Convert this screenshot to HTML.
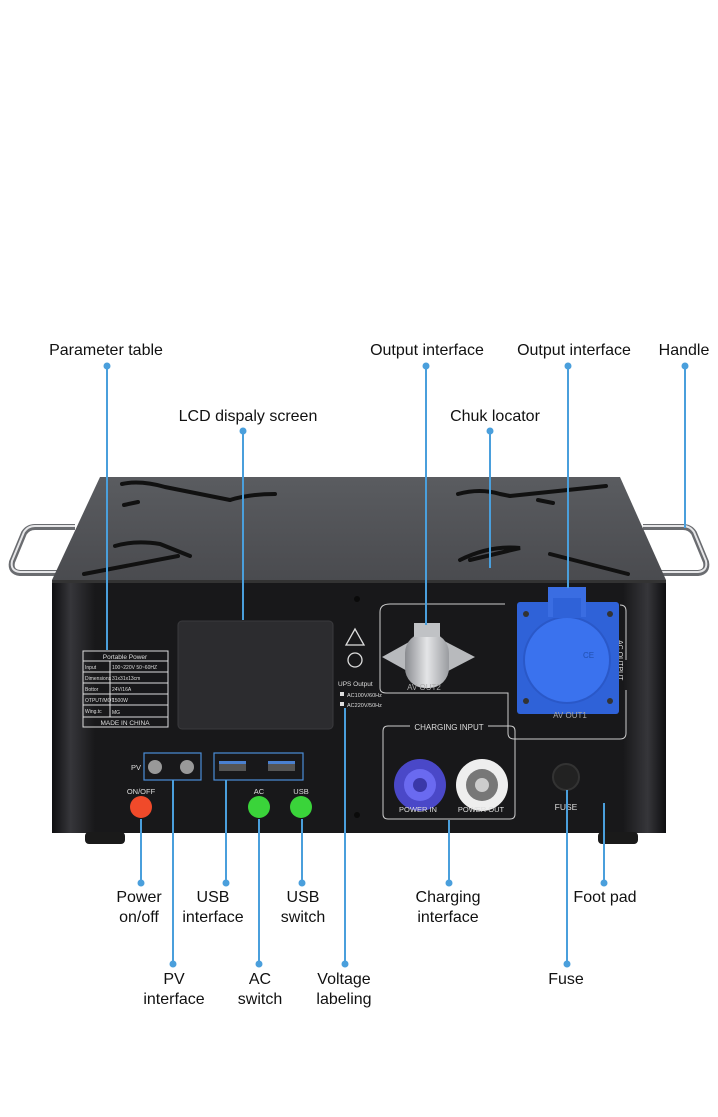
<!DOCTYPE html>
<html><head><meta charset="utf-8"><style>
html,body{margin:0;padding:0;background:#fff;}
svg{display:block;}
text{font-family:"Liberation Sans",Arial,sans-serif;}
</style></head><body>
<svg width="718" height="1117" viewBox="0 0 718 1117" xmlns="http://www.w3.org/2000/svg">
<defs>
<linearGradient id="lid" x1="0" y1="0" x2="0" y2="1"><stop offset="0" stop-color="#5a5c60"/><stop offset="1" stop-color="#4a4b4f"/></linearGradient>
<linearGradient id="panel" x1="0" y1="0" x2="1" y2="0"><stop offset="0" stop-color="#0e0e10"/><stop offset="0.03" stop-color="#36363a"/><stop offset="0.07" stop-color="#18181a"/><stop offset="0.93" stop-color="#18181a"/><stop offset="0.97" stop-color="#36363a"/><stop offset="1" stop-color="#0e0e10"/></linearGradient>
<linearGradient id="metal" x1="0" y1="0" x2="1" y2="0"><stop offset="0" stop-color="#8a8c90"/><stop offset="0.5" stop-color="#e4e5e7"/><stop offset="1" stop-color="#9a9ca0"/></linearGradient>
</defs>
<rect width="718" height="1117" fill="#fff"/>
<!-- handles -->
<g fill="none" stroke="#6a6c70" stroke-width="6">
<path d="M75 527 L35 527 Q28 527 24 533 L12 562 Q10 572 20 573 L70 573"/>
<path d="M643 527 L683 527 Q690 527 694 533 L706 562 Q708 572 698 573 L648 573"/>
</g>
<g fill="none" stroke="#e6e6e8" stroke-width="2">
<path d="M75 526 L35 526 Q28 526 24 532 L12 561 Q10 571 20 572 L70 572"/>
<path d="M643 526 L683 526 Q690 526 694 532 L706 561 Q708 571 698 572 L648 572"/>
</g>
<!-- lid -->
<polygon points="100,477 620,477 666,580 52,580" fill="url(#lid)"/>
<g stroke="#111" stroke-width="4" fill="none" stroke-linecap="round">
<path d="M122 484 Q140 480 165 487 L230 500"/><path d="M230 500 Q250 494 275 494"/><path d="M124 505 L138 502"/>
<path d="M115 546 Q135 540 160 544 L190 556"/><path d="M84 574 L178 556"/>
<path d="M458 494 Q480 488 500 494 L510 496"/><path d="M510 496 L606 486"/><path d="M538 500 L553 503"/>
<path d="M460 560 Q490 545 520 548 L470 560"/><path d="M550 554 L628 574"/>
</g>
<!-- front panel -->
<rect x="52" y="580" width="614" height="253" fill="url(#panel)"/>
<rect x="52" y="580" width="614" height="3" fill="#333"/>
<!-- feet -->
<rect x="85" y="832" width="40" height="12" rx="4" fill="#1a1a1a"/>
<rect x="598" y="832" width="40" height="12" rx="4" fill="#1a1a1a"/>
<!-- LCD -->
<rect x="178" y="621" width="155" height="108" rx="4" fill="#2c2c2f" stroke="#3a3a3d"/>
<!-- parameter table -->
<g stroke="#ddd" stroke-width="1" fill="none">
<rect x="83" y="651" width="85" height="76"/>
<line x1="83" y1="661" x2="168" y2="661"/><line x1="83" y1="672" x2="168" y2="672"/><line x1="83" y1="683" x2="168" y2="683"/><line x1="83" y1="694" x2="168" y2="694"/><line x1="83" y1="705" x2="168" y2="705"/><line x1="83" y1="717" x2="168" y2="717"/>
<line x1="110" y1="661" x2="110" y2="717"/>
</g>
<g fill="#ddd" font-size="5">
<text x="125" y="659" text-anchor="middle" font-size="6.5">Portable Power</text>
<text x="85" y="669">Input</text><text x="112" y="669">100~220V 50~60HZ</text>
<text x="85" y="680">Dimensions</text><text x="112" y="680">31x31x13cm</text>
<text x="85" y="691">Bottor</text><text x="112" y="691">24V/16A</text>
<text x="85" y="702">OTPUT/MOT</text><text x="112" y="702">1500W</text>
<text x="85" y="713">Wing.tc</text><text x="112" y="714">MG</text>
<text x="125" y="725" text-anchor="middle" font-size="6.5">MADE IN CHINA</text>
</g>
<!-- warning & UPS -->
<polygon points="355,629 346,645 364,645" fill="none" stroke="#ddd" stroke-width="1.3"/>
<circle cx="355" cy="660" r="7" fill="none" stroke="#ddd" stroke-width="1.3"/>
<circle cx="357" cy="599" r="3" fill="#0a0a0a"/><circle cx="357" cy="815" r="3" fill="#0a0a0a"/>
<text x="338" y="686" fill="#ddd" font-size="6.5">UPS  Output</text>
<rect x="340" y="692" width="4" height="4" fill="#ddd"/><text x="347" y="697" fill="#ddd" font-size="5.5">AC100V/60Hz</text>
<rect x="340" y="702" width="4" height="4" fill="#ddd"/><text x="347" y="707" fill="#ddd" font-size="5.5">AC220V/50Hz</text>
<!-- AV outlines -->
<path d="M390 604 L505 604 M380 612 L380 688 Q380 693 386 693 L508 693 L508 733 Q508 739 514 739 L620 739 Q626 739 626 733 L626 690 M626 660 L626 611 Q626 605 620 605" fill="none" stroke="#ccc" stroke-width="1"/>
<path d="M390 604 Q380 604 380 612" fill="none" stroke="#ccc"/>
<text x="618" y="640" fill="#ddd" font-size="7" transform="rotate(90 618 640)">AC OUTPUT</text>
<!-- gray connector -->
<polygon points="427,632 475,657 427,682 382,657" fill="#b8babd"/>
<rect x="405" y="633" width="44" height="55" rx="20" fill="url(#metal)"/>
<rect x="414" y="623" width="26" height="14" fill="#c0c2c5"/>
<text x="424" y="690" text-anchor="middle" fill="#aaa" font-size="8">AV OUT2</text>
<!-- blue socket -->
<rect x="517" y="602" width="102" height="112" rx="3" fill="#2f62d8"/>
<circle cx="567" cy="660" r="43" fill="#3a72ee" stroke="#2a58c8" stroke-width="2"/>
<rect x="548" y="587" width="38" height="30" fill="#3a6de2"/>
<rect x="553" y="598" width="28" height="20" fill="#2f62d8"/>
<circle cx="526" cy="614" r="3" fill="#333"/><circle cx="610" cy="614" r="3" fill="#333"/><circle cx="526" cy="701" r="3" fill="#333"/><circle cx="610" cy="701" r="3" fill="#333"/>
<text x="583" y="658" fill="#2150b0" font-size="8">CE</text>
<text x="570" y="718" text-anchor="middle" fill="#aaa" font-size="8">AV OUT1</text>
<!-- charging input -->
<path d="M410 726 L388 726 Q383 726 383 731 L383 814 Q383 819 388 819 L510 819 Q515 819 515 814 L515 731 Q515 726 510 726 L488 726" fill="none" stroke="#ccc"/>
<text x="449" y="730" text-anchor="middle" fill="#ddd" font-size="8">CHARGING INPUT</text>
<circle cx="420" cy="785" r="26" fill="#4a48c8"/><circle cx="420" cy="785" r="16" fill="#6a6af0"/><circle cx="420" cy="785" r="7" fill="#3a38a8"/>
<circle cx="482" cy="785" r="26" fill="#eee"/><circle cx="482" cy="785" r="16" fill="#777"/><circle cx="482" cy="785" r="7" fill="#ccc"/>
<text x="418" y="812" text-anchor="middle" fill="#ddd" font-size="7.5">POWER IN</text>
<text x="481" y="812" text-anchor="middle" fill="#ddd" font-size="7.5">POWER OUT</text>
<!-- fuse -->
<circle cx="566" cy="777" r="13" fill="#222" stroke="#333" stroke-width="2"/>
<text x="566" y="810" text-anchor="middle" fill="#ddd" font-size="8.5">FUSE</text>
<!-- PV & USB -->
<rect x="144" y="753" width="57" height="27" fill="none" stroke="#4a8ed8" stroke-width="1.2"/>
<circle cx="155" cy="767" r="7" fill="#999"/><circle cx="187" cy="767" r="7" fill="#999"/>
<text x="131" y="770" fill="#ddd" font-size="7.5">PV</text>
<rect x="214" y="753" width="89" height="27" fill="none" stroke="#4a8ed8" stroke-width="1.2"/>
<rect x="219" y="761" width="27" height="10" fill="#555"/><rect x="219" y="761" width="27" height="3" fill="#4a80d0"/>
<rect x="268" y="761" width="27" height="10" fill="#555"/><rect x="268" y="761" width="27" height="3" fill="#4a80d0"/>
<!-- switches -->
<text x="141" y="794" text-anchor="middle" fill="#ddd" font-size="7.5">ON/OFF</text>
<circle cx="141" cy="807" r="11" fill="#f04a2a"/>
<text x="259" y="794" text-anchor="middle" fill="#ddd" font-size="7.5">AC</text>
<circle cx="259" cy="807" r="11" fill="#3ad43a"/>
<text x="301" y="794" text-anchor="middle" fill="#ddd" font-size="7.5">USB</text>
<circle cx="301" cy="807" r="11" fill="#3ad43a"/>
<!-- leader lines -->
<g stroke="#4a9fdc" stroke-width="2" fill="none">
<line x1="107" y1="366" x2="107" y2="650"/>
<line x1="243" y1="431" x2="243" y2="620"/>
<line x1="426" y1="366" x2="426" y2="625"/>
<line x1="490" y1="431" x2="490" y2="568"/>
<line x1="568" y1="366" x2="568" y2="588"/>
<line x1="685" y1="366" x2="685" y2="528"/>
<line x1="141" y1="819" x2="141" y2="883"/>
<line x1="173" y1="780" x2="173" y2="964"/>
<line x1="226" y1="780" x2="226" y2="883"/>
<line x1="259" y1="819" x2="259" y2="964"/>
<line x1="302" y1="819" x2="302" y2="883"/>
<line x1="345" y1="708" x2="345" y2="964"/>
<line x1="449" y1="820" x2="449" y2="883"/>
<line x1="567" y1="790" x2="567" y2="964"/>
<line x1="604" y1="803" x2="604" y2="883"/>
</g>
<g fill="#4a9fdc">
<circle cx="107" cy="366" r="3.5"/><circle cx="243" cy="431" r="3.5"/><circle cx="426" cy="366" r="3.5"/><circle cx="490" cy="431" r="3.5"/><circle cx="568" cy="366" r="3.5"/><circle cx="685" cy="366" r="3.5"/>
<circle cx="141" cy="883" r="3.5"/><circle cx="173" cy="964" r="3.5"/><circle cx="226" cy="883" r="3.5"/><circle cx="259" cy="964" r="3.5"/><circle cx="302" cy="883" r="3.5"/><circle cx="345" cy="964" r="3.5"/><circle cx="449" cy="883" r="3.5"/><circle cx="567" cy="964" r="3.5"/><circle cx="604" cy="883" r="3.5"/>
</g>
<!-- labels -->
<g fill="#111" font-size="16" text-anchor="middle">
<text x="106" y="355">Parameter table</text>
<text x="248" y="421">LCD dispaly screen</text>
<text x="427" y="355">Output interface</text>
<text x="495" y="421">Chuk locator</text>
<text x="574" y="355">Output interface</text>
<text x="684" y="355">Handle</text>
<text x="139" y="902">Power</text><text x="139" y="922">on/off</text>
<text x="213" y="902">USB</text><text x="213" y="922">interface</text>
<text x="303" y="902">USB</text><text x="303" y="922">switch</text>
<text x="448" y="902">Charging</text><text x="448" y="922">interface</text>
<text x="605" y="902">Foot pad</text>
<text x="174" y="984">PV</text><text x="174" y="1004">interface</text>
<text x="260" y="984">AC</text><text x="260" y="1004">switch</text>
<text x="344" y="984">Voltage</text><text x="344" y="1004">labeling</text>
<text x="566" y="984">Fuse</text>
</g>
</svg>
</body></html>
